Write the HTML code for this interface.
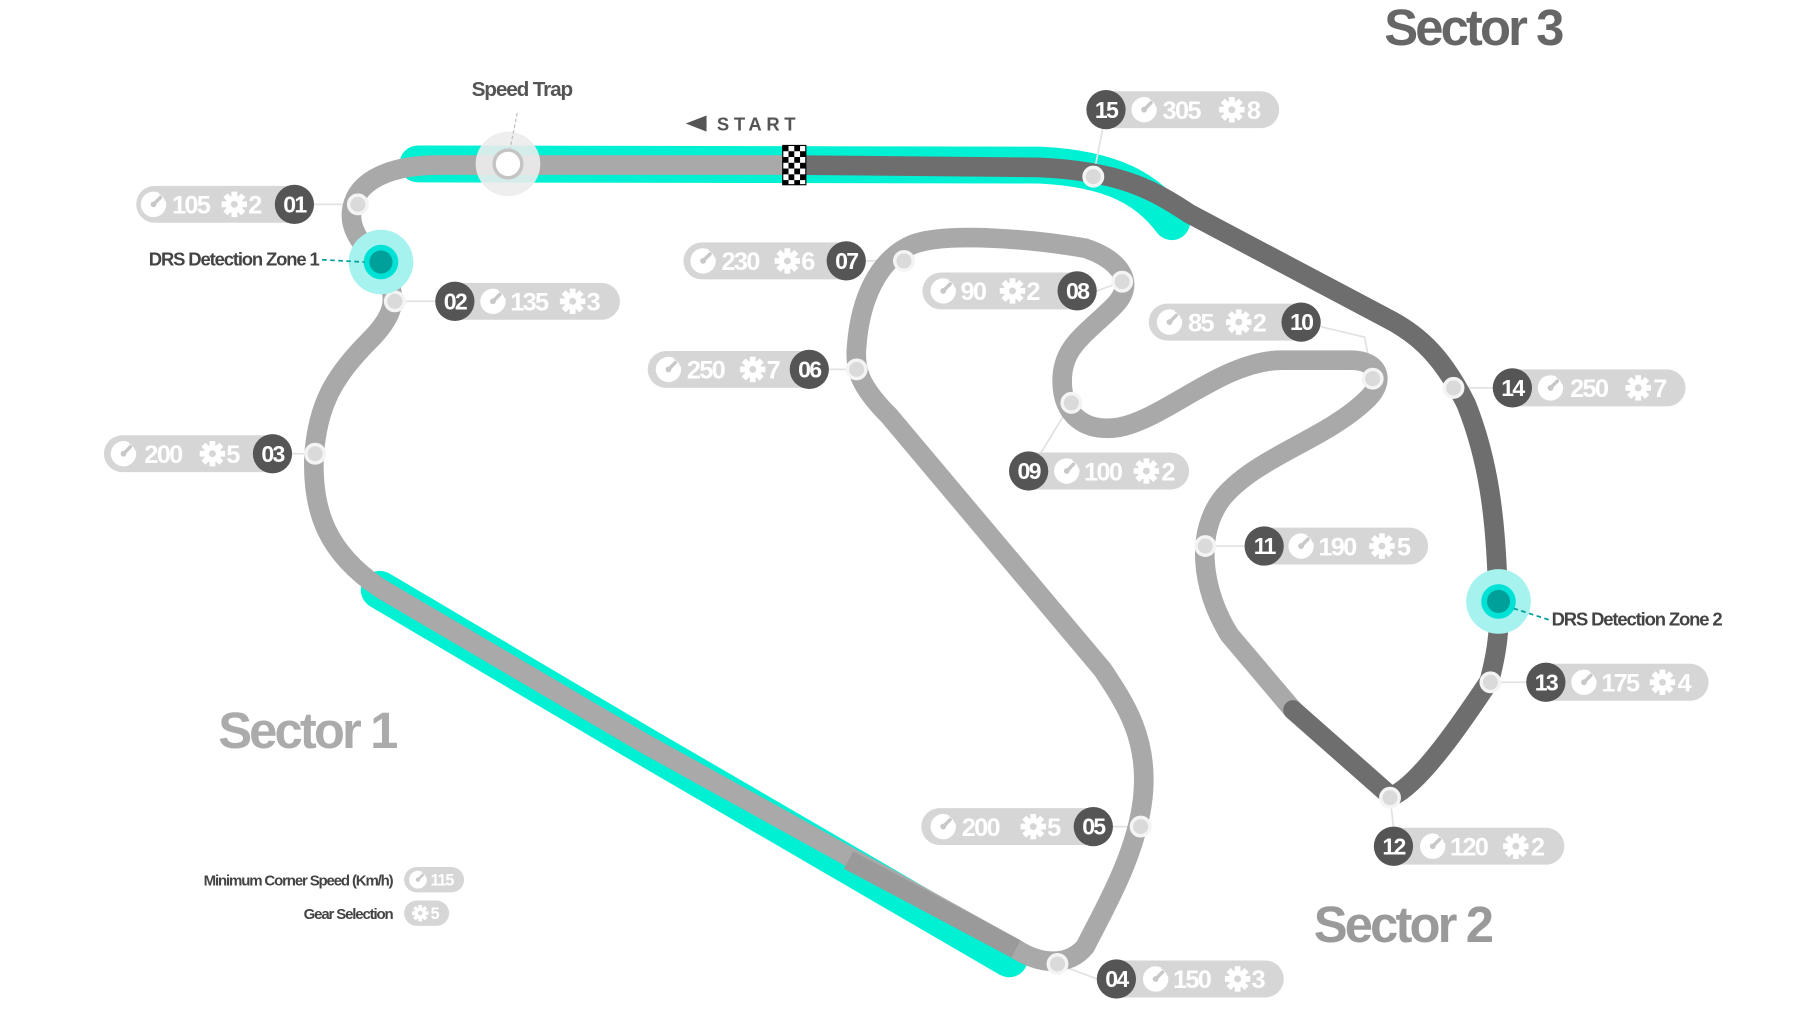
<!DOCTYPE html>
<html><head><meta charset="utf-8"><style>
html,body{margin:0;padding:0;background:#fff;width:1801px;height:1021px;overflow:hidden}
svg{display:block}
text{font-family:"Liberation Sans",sans-serif;font-weight:bold}
.pn{fill:#fff;font-size:22px;letter-spacing:-1.5px}
.bn{fill:#fff;font-size:20px;text-anchor:middle;letter-spacing:-1.5px}
</style></head><body>
<svg width="1801" height="1021" viewBox="0 0 1560 884.4" preserveAspectRatio="none" xmlns="http://www.w3.org/2000/svg">
<defs>
<g id="sp"><circle r="11" fill="#fff"/><path d="M0,0 L6,-6" stroke="#c8c8c8" stroke-width="3" stroke-linecap="round"/><circle r="2.5" fill="#c8c8c8"/><path d="M5,-10 A11,11 0 0 1 11,-3" stroke="#d6d6d6" stroke-width="2" fill="none"/></g>
<g id="gr"><g fill="#fff"><rect x="-2.5" y="-11" width="5" height="22"/><rect x="-11" y="-2.5" width="22" height="5"/><rect x="-2.5" y="-11" width="5" height="22" transform="rotate(45)"/><rect x="-2.5" y="-11" width="5" height="22" transform="rotate(-45)"/><circle r="7.5"/></g><circle r="3" fill="#d6d6d6"/></g>
<pattern id="chk" width="10" height="10" patternUnits="userSpaceOnUse" x="678" y="126"><rect width="10" height="10" fill="#fff"/><rect width="5" height="5" fill="#000"/><rect x="5" y="5" width="5" height="5" fill="#000"/></pattern>
</defs>

<path d="M362,142 L900,143 C965,146 995,165 1015,192" stroke="#00f0d4" stroke-width="32" fill="none" stroke-linecap="round"/>
<path d="M329,511 L556,645 L874,830" stroke="#00f0d4" stroke-width="33" fill="none" stroke-linecap="round"/>

<g stroke="#e2e2e2" stroke-width="1.5" fill="none">
<path d="M272,177 L310,177"/><path d="M342,261 L377,261"/><path d="M253,393 L273,393"/>
<path d="M916,835 L950,848"/><path d="M964,716 L988,716"/><path d="M718,320 L742,320"/>
<path d="M750,226 L783,226"/><path d="M950,252 L972,244"/><path d="M928,349 L900,395"/>
<path d="M1144,283 L1182,292 L1189,328"/><path d="M1044,473 L1078,473"/><path d="M1204,691 L1207,716"/>
<path d="M1291,591 L1322,591"/><path d="M1259,336 L1293,336"/><path d="M947,153 L955,112"/>
</g>

<path d="M688,143 L380,143 C340,143 310,155 305,180 C300,205 325,220 335,240 C345,260 340,275 320,295 C290,325 275,350 272,395 C270,445 285,480 330,510 L560,645 L880,822 C900,835 925,838 940,820 C955,790 985,740 990,690 C995,640 975,610 955,580 L770,360 C745,335 740,320 742,300 C745,260 760,225 790,212 C820,200 900,208 940,215 C970,225 985,245 965,265 C940,290 920,300 920,330 C920,360 940,375 970,370 C1010,362 1060,312 1110,312 L1170,312 C1195,312 1200,330 1185,345 C1150,380 1090,395 1060,430 C1035,460 1040,510 1065,550 L1120,615" stroke="#a9a9a9" stroke-width="17" fill="none" stroke-linejoin="round"/>
<path d="M735,745 L880,822" stroke="#9a9a9a" stroke-width="17" fill="none"/>
<path d="M688,143 L900,145 C970,148 1000,165 1030,185 L1200,275 C1230,290 1250,310 1270,350 C1290,400 1295,450 1297,500 C1300,540 1298,560 1290,590 C1270,620 1230,680 1205,690 L1120,615" stroke="#6e6e6e" stroke-width="17" fill="none" stroke-linejoin="round" stroke-linecap="round"/>
<rect x="678" y="126" width="20" height="34" fill="url(#chk)" stroke="#000" stroke-width="1"/>

<g fill="#dadada" stroke="#f4f4f4" stroke-width="3">
<circle cx="310" cy="177" r="8"/><circle cx="342" cy="261" r="8"/><circle cx="273" cy="393" r="8"/>
<circle cx="916" cy="835" r="8"/><circle cx="988" cy="716" r="8"/><circle cx="742" cy="320" r="8"/>
<circle cx="783" cy="226" r="8"/><circle cx="972" cy="244" r="8"/><circle cx="928" cy="349" r="8"/>
<circle cx="1189" cy="328" r="8"/><circle cx="1044" cy="473" r="8"/><circle cx="1204" cy="691" r="8"/>
<circle cx="1291" cy="591" r="8"/><circle cx="1259" cy="336" r="8"/><circle cx="947" cy="153" r="8"/>
</g>

<circle cx="440" cy="142" r="28" fill="#ececec" opacity="0.9"/>
<circle cx="440" cy="142" r="12" fill="#fff" stroke="#c4c4c4" stroke-width="3"/>
<path d="M448,98 L442,128" stroke="#bbb" stroke-width="1" stroke-dasharray="3,2"/>
<text x="452" y="83" font-size="18" fill="#555" text-anchor="middle" letter-spacing="-1">Speed Trap</text>
<path d="M594,107 L612,100 L612,114 Z" fill="#555"/>
<text x="621" y="113" font-size="16" fill="#555" letter-spacing="4">START</text>

<circle cx="330" cy="227" r="28" fill="#a6f2ee"/>
<circle cx="330" cy="227" r="15" fill="#00e2d6"/>
<circle cx="330" cy="227" r="10" fill="#00a09a"/>
<path d="M279,225 L316,227" stroke="#00a09a" stroke-width="1.5" stroke-dasharray="4,3"/>
<text x="276" y="230" font-size="16" fill="#444" text-anchor="end" letter-spacing="-1">DRS Detection Zone 1</text>
<circle cx="1298" cy="521" r="28" fill="#a6f2ee"/>
<circle cx="1298" cy="521" r="15" fill="#00e2d6"/>
<circle cx="1298" cy="521" r="10" fill="#00a09a"/>
<path d="M1311,527 L1342,537" stroke="#00a09a" stroke-width="1.5" stroke-dasharray="4,3"/>
<text x="1344" y="542" font-size="16" fill="#444" letter-spacing="-1">DRS Detection Zone 2</text>

<text x="1199" y="39" font-size="44" fill="#666" letter-spacing="-2.5">Sector 3</text>
<text x="189" y="648" font-size="44" fill="#ababab" letter-spacing="-2.5">Sector 1</text>
<text x="1138" y="816" font-size="44" fill="#9a9a9a" letter-spacing="-2.5">Sector 2</text>

<text x="340" y="767" font-size="13" fill="#444" text-anchor="end" letter-spacing="-1">Minimum Corner Speed (Km/h)</text>
<rect x="350" y="751" width="52" height="22" rx="11" fill="#d6d6d6"/>
<g transform="translate(362,762) scale(0.7)"><use href="#sp"/></g>
<text x="373" y="767" font-size="14" fill="#fff" letter-spacing="-1">115</text>
<text x="340" y="796" font-size="13" fill="#444" text-anchor="end" letter-spacing="-1">Gear Selection</text>
<rect x="350" y="780" width="39" height="22" rx="11" fill="#d6d6d6"/>
<g transform="translate(364,791) scale(0.65)"><use href="#gr"/></g>
<text x="373" y="796" font-size="14" fill="#fff">5</text>

<g transform="translate(118,177)"><rect y="-16" width="154" height="32" rx="16" fill="#d6d6d6"/><use href="#sp" x="15"/><text class="pn" x="31" y="8">105</text><use href="#gr" x="85"/><text class="pn" x="97" y="8">2</text><circle cx="137" r="17" fill="#555"/><text class="bn" x="137" y="7">01</text></g>
<g transform="translate(90,393)"><rect y="-16" width="163" height="32" rx="16" fill="#d6d6d6"/><use href="#sp" x="17"/><text class="pn" x="35" y="8">200</text><use href="#gr" x="94"/><text class="pn" x="106" y="8">5</text><circle cx="146" r="17" fill="#555"/><text class="bn" x="146" y="7">03</text></g>
<g transform="translate(798,716)"><rect y="-16" width="166" height="32" rx="16" fill="#d6d6d6"/><use href="#sp" x="19"/><text class="pn" x="35" y="8">200</text><use href="#gr" x="97"/><text class="pn" x="109" y="8">5</text><circle cx="149" r="17" fill="#555"/><text class="bn" x="149" y="7">05</text></g>
<g transform="translate(561,320)"><rect y="-16" width="157" height="32" rx="16" fill="#d6d6d6"/><use href="#sp" x="18"/><text class="pn" x="34" y="8">250</text><use href="#gr" x="91"/><text class="pn" x="103" y="8">7</text><circle cx="140" r="17" fill="#555"/><text class="bn" x="140" y="7">06</text></g>
<g transform="translate(592,226)"><rect y="-16" width="158" height="32" rx="16" fill="#d6d6d6"/><use href="#sp" x="17"/><text class="pn" x="33" y="8">230</text><use href="#gr" x="90"/><text class="pn" x="102" y="8">6</text><circle cx="141" r="17" fill="#555"/><text class="bn" x="141" y="7">07</text></g>
<g transform="translate(799,252)"><rect y="-16" width="151" height="32" rx="16" fill="#d6d6d6"/><use href="#sp" x="18"/><text class="pn" x="33" y="8">90</text><use href="#gr" x="78"/><text class="pn" x="90" y="8">2</text><circle cx="134" r="17" fill="#555"/><text class="bn" x="134" y="7">08</text></g>
<g transform="translate(995,279)"><rect y="-16" width="149" height="32" rx="16" fill="#d6d6d6"/><use href="#sp" x="18"/><text class="pn" x="34" y="8">85</text><use href="#gr" x="78"/><text class="pn" x="90" y="8">2</text><circle cx="132" r="17" fill="#555"/><text class="bn" x="132" y="7">10</text></g>

<g transform="translate(377,261)"><rect y="-16" width="160" height="32" rx="16" fill="#d6d6d6"/><circle cx="17" r="17" fill="#555"/><text class="bn" x="17" y="7">02</text><use href="#sp" x="50"/><text class="pn" x="65" y="8">135</text><use href="#gr" x="119"/><text class="pn" x="131" y="8">3</text></g>
<g transform="translate(950,848)"><rect y="-16" width="162" height="32" rx="16" fill="#d6d6d6"/><circle cx="17" r="17" fill="#555"/><text class="bn" x="17" y="7">04</text><use href="#sp" x="51"/><text class="pn" x="66" y="8">150</text><use href="#gr" x="122"/><text class="pn" x="134" y="8">3</text></g>
<g transform="translate(874,408)"><rect y="-16" width="156" height="32" rx="16" fill="#d6d6d6"/><circle cx="17" r="17" fill="#555"/><text class="bn" x="17" y="7">09</text><use href="#sp" x="50"/><text class="pn" x="65" y="8">100</text><use href="#gr" x="119"/><text class="pn" x="132" y="8">2</text></g>
<g transform="translate(1078,473)"><rect y="-16" width="159" height="32" rx="16" fill="#d6d6d6"/><circle cx="17" r="17" fill="#555"/><text class="bn" x="17" y="7">11</text><use href="#sp" x="49"/><text class="pn" x="64" y="8">190</text><use href="#gr" x="119"/><text class="pn" x="132" y="8">5</text></g>
<g transform="translate(1190,733)"><rect y="-16" width="165" height="32" rx="16" fill="#d6d6d6"/><circle cx="17" r="17" fill="#555"/><text class="bn" x="17" y="7">12</text><use href="#sp" x="51"/><text class="pn" x="66" y="8">120</text><use href="#gr" x="123"/><text class="pn" x="136" y="8">2</text></g>
<g transform="translate(1322,591)"><rect y="-16" width="158" height="32" rx="16" fill="#d6d6d6"/><circle cx="17" r="17" fill="#555"/><text class="bn" x="17" y="7">13</text><use href="#sp" x="50"/><text class="pn" x="65" y="8">175</text><use href="#gr" x="118"/><text class="pn" x="131" y="8">4</text></g>
<g transform="translate(1293,336)"><rect y="-16" width="167" height="32" rx="16" fill="#d6d6d6"/><circle cx="17" r="17" fill="#555"/><text class="bn" x="17" y="7">14</text><use href="#sp" x="50"/><text class="pn" x="67" y="8">250</text><use href="#gr" x="126"/><text class="pn" x="139" y="8">7</text></g>
<g transform="translate(941,95)"><rect y="-16" width="167" height="32" rx="16" fill="#d6d6d6"/><circle cx="17" r="17" fill="#555"/><text class="bn" x="17" y="7">15</text><use href="#sp" x="50"/><text class="pn" x="66" y="8">305</text><use href="#gr" x="126"/><text class="pn" x="139" y="8">8</text></g>
</svg>
</body></html>
